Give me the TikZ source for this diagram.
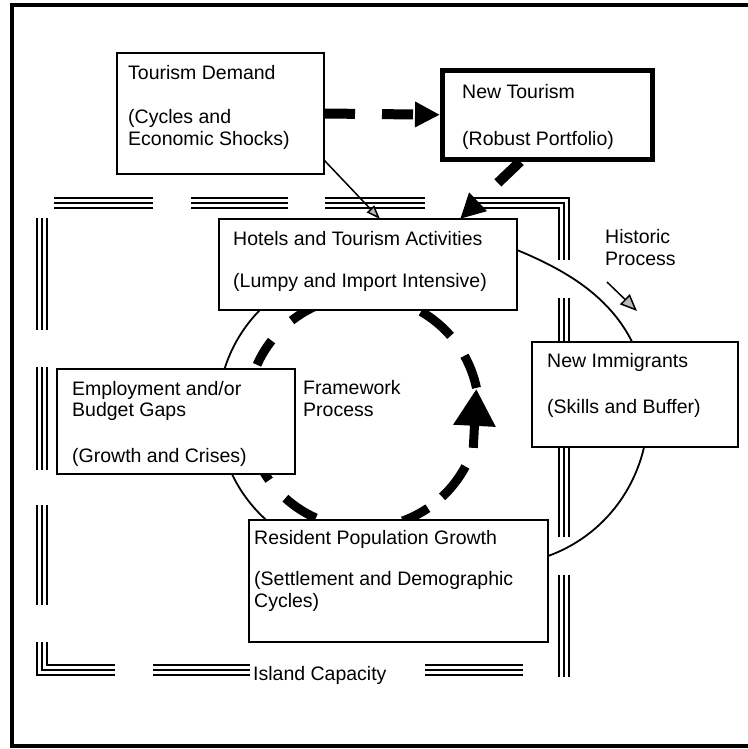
\documentclass[tikz,border=0pt]{standalone}
\usepackage{fontspec}
\setmainfont{Liberation Sans}
\usetikzlibrary{arrows.meta}
\begin{document}
\begin{tikzpicture}[x=1pt,y=-1pt,
  frameline/.style={line width=3.6pt, line join=miter},
  islandline/.style={line width=2.2pt, line join=miter, preaction={draw, line width=12pt}, preaction={draw=white, line width=7.2pt}},
  box/.style={draw, line width=1.4pt, fill=white, inner sep=0pt, outer sep=0pt},
  boldbox/.style={draw, line width=5pt, fill=white, inner sep=0pt},
  txt/.style={anchor=base west, align=left, inner sep=0pt, font=\fontsize{19.5pt}{21.5pt}\selectfont},
  thinline/.style={line width=1.8pt},
  smallhead/.style={line width=1.5pt, -{Triangle[length=14pt,width=10pt,fill=gray!55]}},
  fatdash/.style={line width=10pt, dash pattern=on 31pt off 27pt, -{Triangle[length=25pt,width=24pt]}},
  cyclearc/.style={line width=9pt},
]
\useasboundingbox (0,0) rectangle (747,749);
% outer frame (right side lies beyond the picture)
\draw[frameline] (752,5) -- (12,5) -- (12,746) -- (752,746);

% island capacity frame
\draw[islandline] (54,203) -- (153,203);
\draw[islandline] (191,203) -- (288,203);
\draw[islandline] (325,203) -- (425,203);
\draw[islandline] (470,203) -- (564,203) -- (564,260);
\draw[islandline] (564,298) -- (564,537);
\draw[islandline] (564,575) -- (564,677);
\draw[islandline] (42,642) -- (42,670) -- (115,670);
\draw[islandline] (153,670) -- (250,670);
\draw[islandline] (425,670) -- (523,670);
\draw[islandline] (42,218) -- (42,330);
\draw[islandline] (42,367) -- (42,470);
\draw[islandline] (42,505) -- (42,605);

% framework cycle
\coordinate (C) at (363,412);
\draw[thinline] (C) ++(-132:145) arc[start angle=-132, end angle=-235, radius=145];
\foreach \a/\b in {-12/-29, -41/-60, -115/-128, -142/-156, -200/-216, -228/-246, -290/-304, -313/-332}
  \draw[cyclearc] (C) ++(\a:116) arc[start angle=\a, end angle=\b, radius=116];
\draw[cyclearc, -{Triangle[length=37pt,width=40pt]}] (C) ++(18:116) -- ++(3,-59);

% boxes
\node[box, minimum width=207pt, minimum height=121pt] (TD) at (220.5,113.5) {};
\node[boldbox, minimum width=209.5pt, minimum height=88.5pt] (NT) at (547.25,114.75) {};
\node[box, minimum width=298pt, minimum height=91pt] (HT) at (368,264.5) {};
\node[box, minimum width=238pt, minimum height=105pt] (EB) at (176,421.5) {};
\node[box, minimum width=299pt, minimum height=122pt] (RP) at (398.5,581) {};

% historic process arc (runs behind the New Immigrants box)
\draw[thinline] ([yshift=-31pt]HT.north east) .. controls (570,272) and (630,305) .. (645,380)
  .. controls (660,455) and (620,530) .. ([yshift=-36pt]RP.north east);
\node[box, minimum width=206pt, minimum height=105pt] (NI) at (635,394.5) {};

% texts (anchored at the baseline of the last line)
\node[txt] (tdT) at (128,145) {Tourism Demand\\[23pt](Cycles and\\Economic Shocks)};
\node[txt] (ntT) at (462,145) {New Tourism\\[25pt](Robust Portfolio)};
\node[txt] (htT) at (233,287) {Hotels and Tourism Activities\\[20pt](Lumpy and Import Intensive)};
\node[txt] (ebT) at (72,462) {Employment and/or\\Budget Gaps\\[24pt](Growth and Crises)};
\node[txt] (fpT) at (303,416) {Framework\\Process};
\node[txt] (niT) at (547,413) {New Immigrants\\[24pt](Skills and Buffer)};
\node[txt] (rpT) at (254,607) {Resident Population Growth\\[20pt](Settlement and Demographic\\Cycles)};
\node[txt] (hpT) at (605,265) {Historic\\Process};
\node[txt] (icT) at (253,680) {Island Capacity};

% connectors
\draw[fatdash] (TD.east) -- (NT.west);
\draw[fatdash, dash pattern=on 31pt off 31pt] ([xshift=-27pt]NT.south) -- ([xshift=92pt]HT.north);
\draw[smallhead] ([yshift=14pt]TD.south east) -- ([xshift=12pt]HT.north);
\coordinate (h1) at (607,282);
\coordinate (h2) at (637,311);
\draw[line width=1.5pt, -{Triangle[length=17pt,width=14pt,fill=gray!55]}] (h1) -- (h2);
\end{tikzpicture}
\end{document}
